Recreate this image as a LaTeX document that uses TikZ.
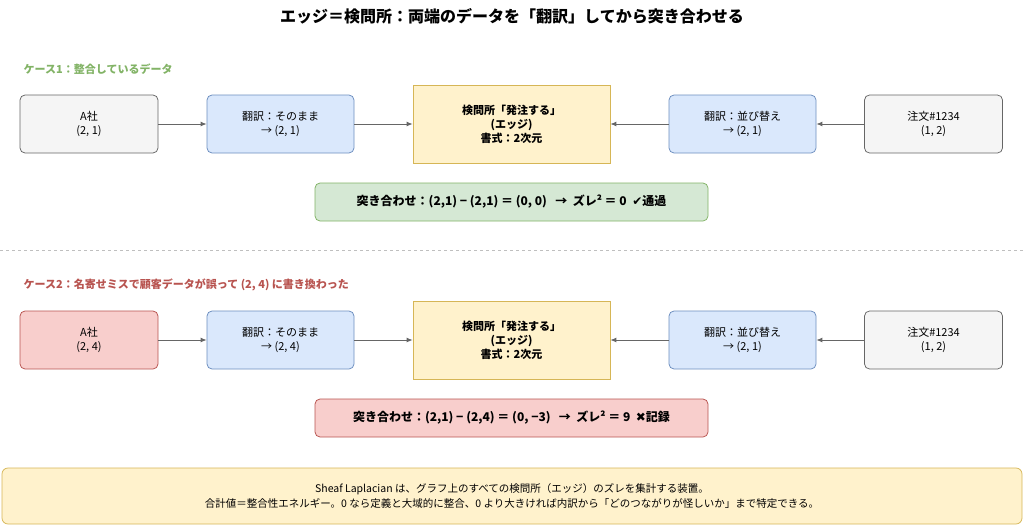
\documentclass[tikz,border=0pt]{standalone}
\usepackage{fontspec}
\setmainfont{Noto Sans CJK JP}
\newfontfamily\symfont{DejaVu Sans}
\usetikzlibrary{positioning,arrows.meta}
\definecolor{grayF}{HTML}{F5F5F5}\definecolor{grayS}{HTML}{666666}
\definecolor{blueF}{HTML}{DAE8FC}\definecolor{blueS}{HTML}{6C8EBF}
\definecolor{yelF}{HTML}{FFF2CC}\definecolor{yelS}{HTML}{D6B656}
\definecolor{grnF}{HTML}{D5E8D4}\definecolor{grnS}{HTML}{82B366}
\definecolor{redF}{HTML}{F8CECC}\definecolor{redS}{HTML}{B85450}
\tikzset{every picture/.style={line width=0.75pt}}
\tikzset{
  box/.style={draw, rounded corners=5pt, minimum width=138pt, minimum height=58pt, align=center, font=\fontsize{11}{14}\selectfont},
  src/.style={box, fill=grayF, draw=grayS},
  bad/.style={box, fill=redF, draw=redS},
  trans/.style={box, fill=blueF, draw=blueS, minimum width=147pt},
  edge/.style={draw=yelS, fill=yelF, minimum width=197pt, minimum height=78pt, align=center, font=\bfseries\fontsize{11}{14}\selectfont},
  res/.style={draw, rounded corners=5pt, minimum width=393pt, minimum height=38pt, font=\bfseries\fontsize{12}{14}\selectfont},
  conn/.style={-{Latex[length=6pt,width=5pt]}, draw=grayS, line width=0.9pt},
  case/.style={anchor=west, font=\bfseries\fontsize{11}{14}\selectfont}
}
\begin{document}
\begin{tikzpicture}[x=1pt,y=-1pt]
\useasboundingbox (0,0) rectangle (1024,528);

% title
\node[font=\bfseries\fontsize{16}{18}\selectfont] (title) at (512,16) {エッジ＝検問所：両端のデータを「翻訳」してから突き合わせる};

% case 1
\node[case, text=grnS] (caseA) at (20,69) {ケース1：整合しているデータ};
\node[src] (compA) at (89,124) {A社\\(2, 1)};
\node[trans] (trA) at (280.5,124) {翻訳：そのまま\\→ (2, 1)};
\node[edge] (edgeA) at (511.5,124) {検問所「発注する」\\(エッジ)\\書式：2次元};
\node[trans] (trOA) at (742.5,124) {翻訳：並び替え\\→ (2, 1)};
\node[src] (ordA) at (933.5,124) {注文\#1234\\(1, 2)};
\node[res, fill=grnF, draw=grnS] (resA) at (511.5,202) {突き合わせ：(2,1) − (2,1) ＝ (0, 0) \ \ →\ \  ズレ² ＝ 0 \ {\symfont ✔}通過};
\draw[conn] (compA) -- (trA);
\draw[conn] (trA) -- (edgeA);
\draw[conn] (ordA) -- (trOA);
\draw[conn] (trOA) -- (edgeA);

% separator
\draw[dashed, draw=black!25, line width=0.6pt] (0,250) -- (1024,250);

% case 2
\node[case, text=redS] (caseB) at (20,285) {ケース2：名寄せミスで顧客データが誤って (2, 4) に書き換わった};
\node[bad] (compB) at (89,340) {A社\\(2, 4)};
\node[trans] (trB) at (280.5,340) {翻訳：そのまま\\→ (2, 4)};
\node[edge] (edgeB) at (511.5,340) {検問所「発注する」\\(エッジ)\\書式：2次元};
\node[trans] (trOB) at (742.5,340) {翻訳：並び替え\\→ (2, 1)};
\node[src] (ordB) at (933.5,340) {注文\#1234\\(1, 2)};
\node[res, fill=redF, draw=redS] (resB) at (511.5,418) {突き合わせ：(2,1) − (2,4) ＝ (0, −3) \ \ →\ \  ズレ² ＝ 9 \ {\symfont ✖}記録};
\draw[conn] (compB) -- (trB);
\draw[conn] (trB) -- (edgeB);
\draw[conn] (ordB) -- (trOB);
\draw[conn] (trOB) -- (edgeB);

% summary
\node[draw=yelS, fill=yelF, rounded corners=6pt, minimum width=1020pt, minimum height=56pt, align=center, font=\fontsize{10.5}{15}\selectfont] (summary) at (512,496)
  {Sheaf Laplacian は、グラフ上のすべての検問所（エッジ）のズレを集計する装置。\\合計値＝整合性エネルギー。0 なら定義と大域的に整合、0 より大きければ内訳から「どのつながりが怪しいか」まで特定できる。};
\end{tikzpicture}
\end{document}
